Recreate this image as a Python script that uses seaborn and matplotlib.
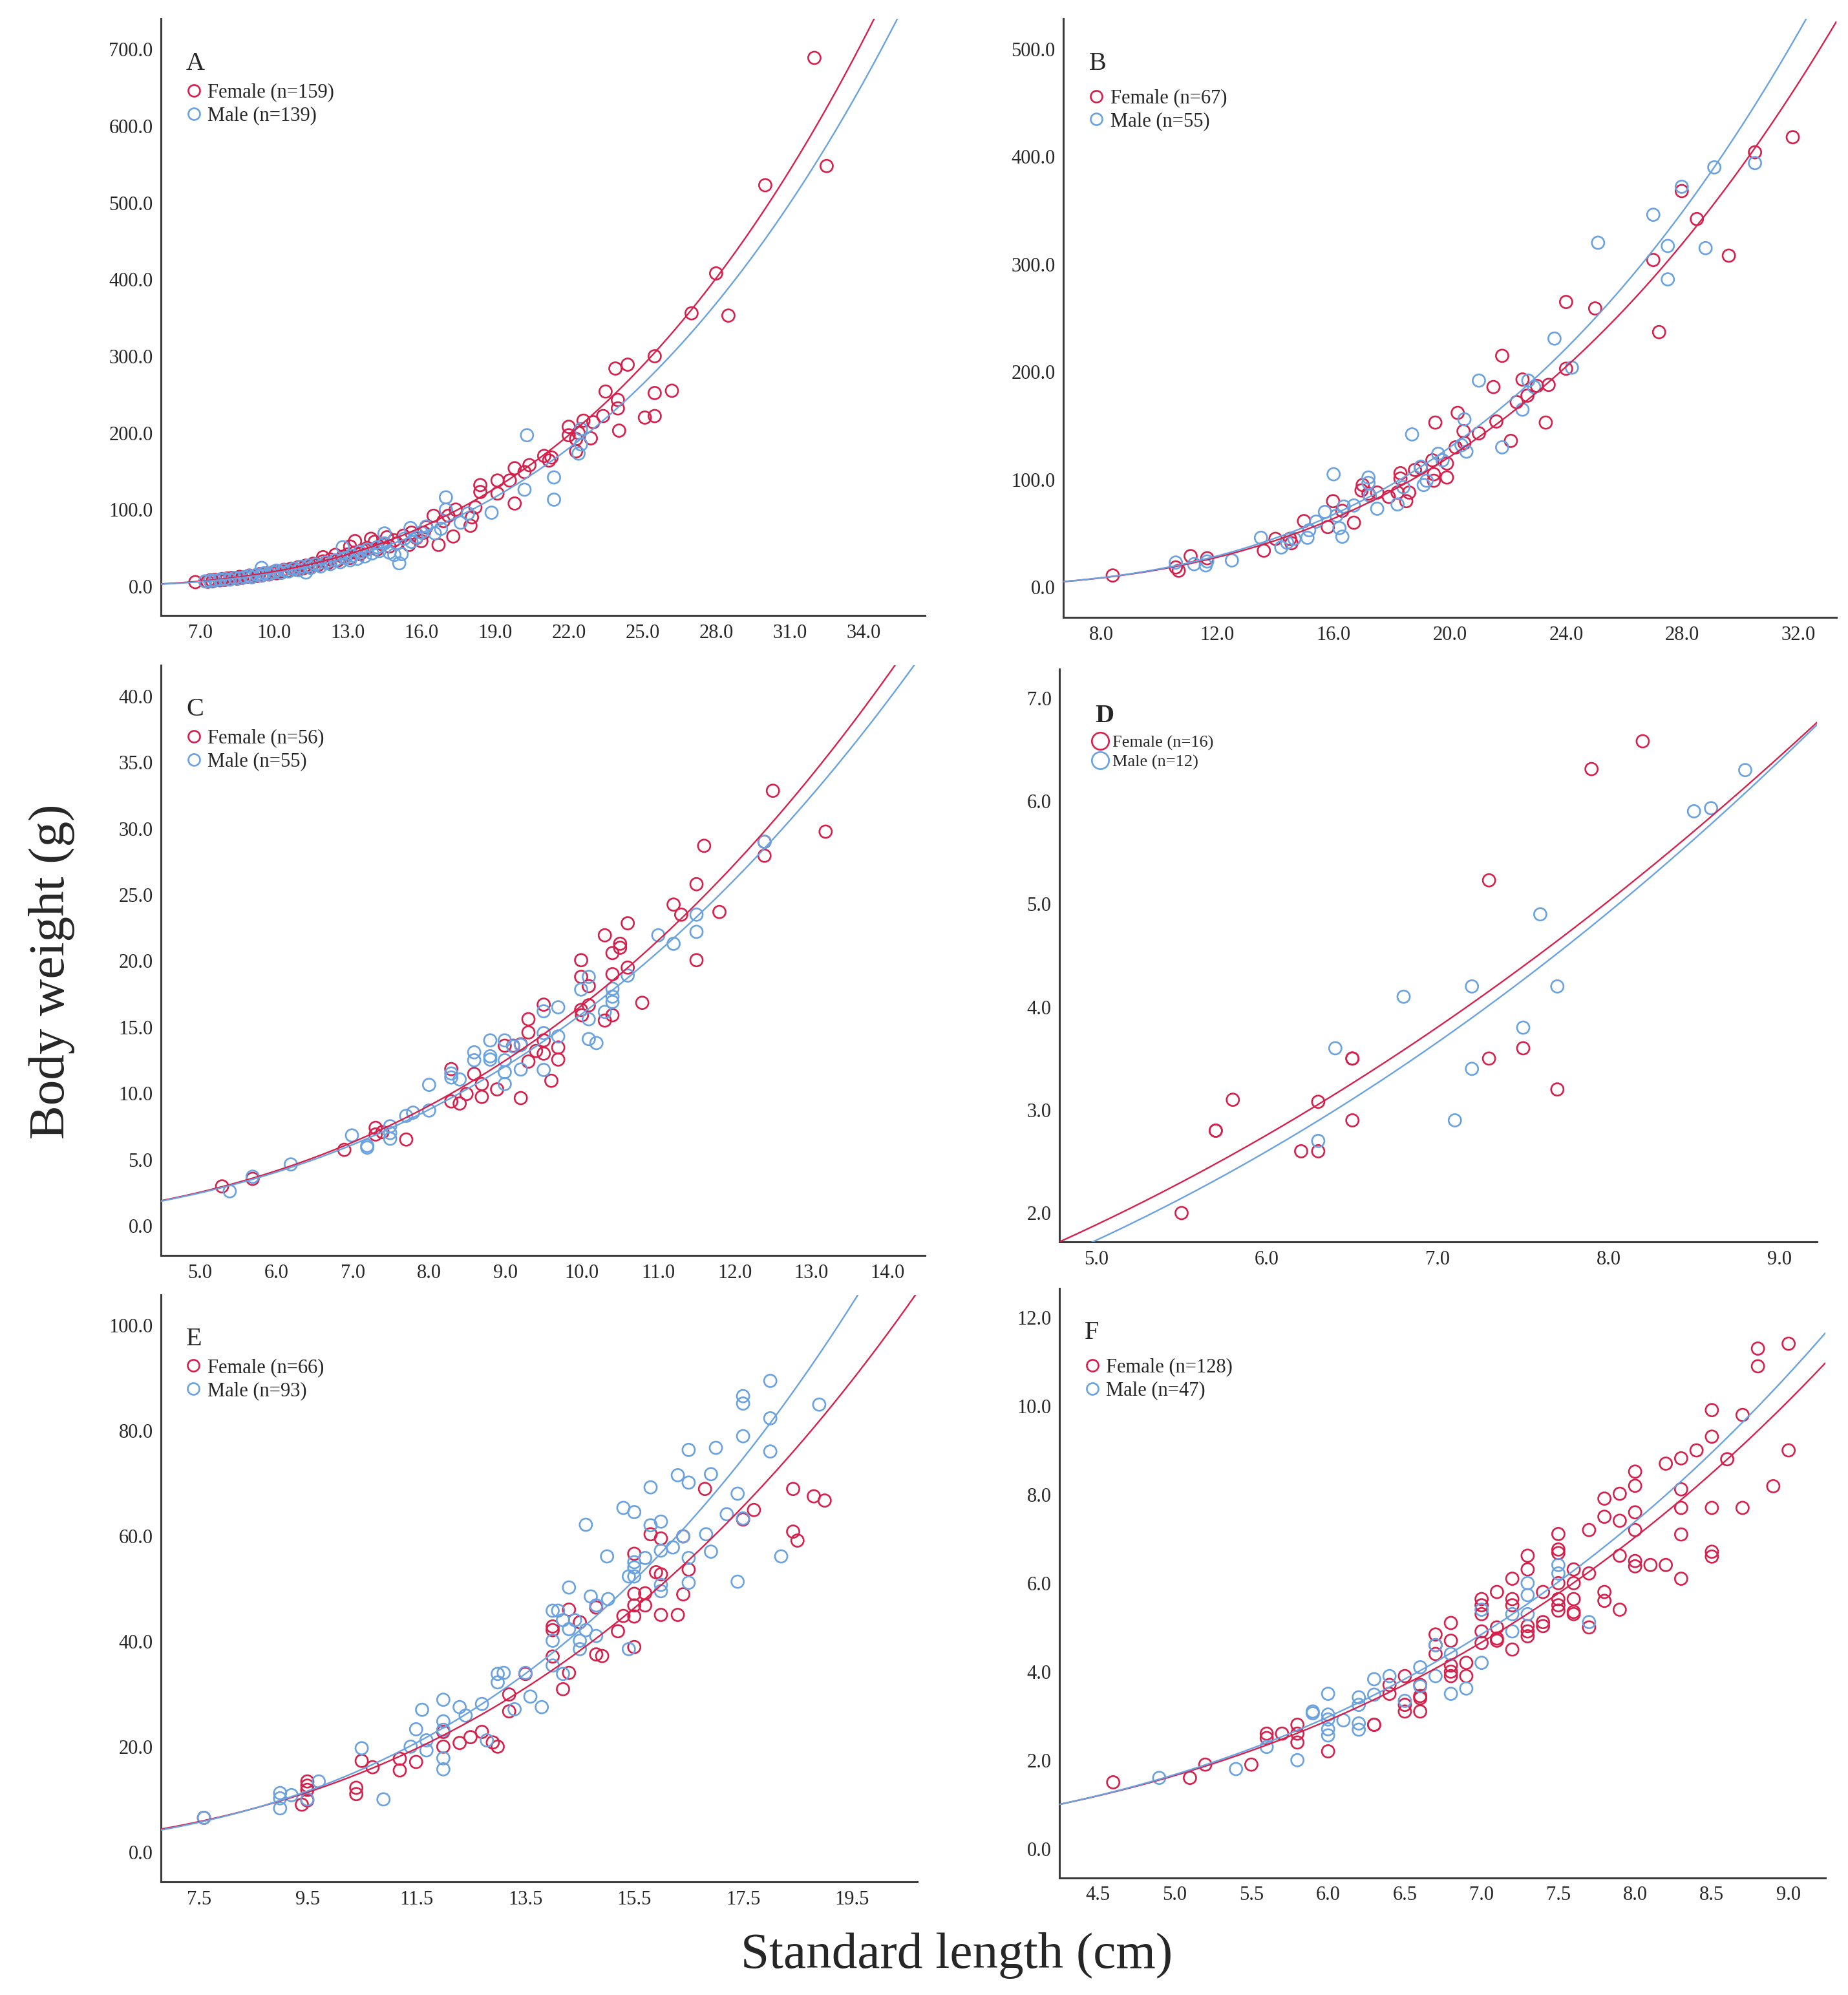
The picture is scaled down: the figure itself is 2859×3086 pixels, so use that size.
import numpy as np
import matplotlib
matplotlib.use("Agg")
import matplotlib.pyplot as plt
from matplotlib.lines import Line2D
import seaborn as sns

# ---- data: (standard length cm, body weight g) ----
A_female = [(6.8, 5.5), (7.3, 6.0), (7.4, 7.8), (7.5, 6.5), (7.6, 8.5), (7.8, 7.9), (7.9, 9.5), (8.0, 8.4),
            (8.1, 10.2), (8.2, 9.0), (8.3, 11.0), (8.5, 10.1), (8.6, 12.3), (8.7, 11.0), (8.9, 12.5), (9.0, 14.0),
            (9.1, 12.6), (9.3, 13.5), (9.4, 15.8), (9.5, 14.0), (9.7, 16.9), (9.8, 15.5), (10.0, 18.8), (10.1, 17.0),
            (10.3, 19.8), (10.4, 21.5), (10.6, 20.2), (10.7, 23.0), (10.9, 21.8), (11.0, 25.0), (11.2, 23.6),
            (11.3, 27.0), (11.5, 25.8), (11.6, 29.5), (11.8, 28.0), (12.0, 38.0), (12.0, 32.5), (12.2, 30.5),
            (12.3, 35.0), (12.5, 41.0), (12.6, 33.8), (12.8, 38.5), (13.0, 41.5), (13.1, 52.0), (13.1, 37.0),
            (13.3, 59.0), (13.3, 44.0), (13.5, 42.0), (13.6, 47.0), (13.8, 50.0), (13.95, 62.0), (14.1, 58.0),
            (14.2, 48.0), (14.4, 55.0), (14.6, 64.0), (14.7, 52.0), (14.9, 60.0), (15.0, 56.0), (15.27, 66.0),
            (15.5, 54.0), (15.6, 70.0), (15.8, 63.0), (16.0, 59.0), (16.1, 70.0), (16.2, 77.0), (16.5, 92.0),
            (16.7, 54.0), (16.9, 85.0), (17.1, 92.0), (17.3, 65.0), (17.4, 100.0), (18.0, 79.0), (18.06, 90.0),
            (18.2, 103.0), (18.4, 132.0), (18.4, 123.0), (19.1, 121.0), (19.1, 138.0), (19.6, 138.0), (19.8, 108.0),
            (19.8, 154.0), (20.2, 149.0), (20.4, 158.0), (21.0, 170.0), (21.2, 164.0), (21.3, 168.0), (22.0, 208.0),
            (22.0, 197.0), (22.3, 192.0), (22.3, 176.0), (22.4, 200.0), (22.6, 216.0), (22.9, 193.0), (23.0, 214.0),
            (23.4, 222.0), (23.5, 254.0), (23.9, 284.0), (24.0, 243.0), (24.0, 232.0), (24.05, 203.0), (24.4, 289.0),
            (25.1, 220.0), (25.5, 222.0), (25.5, 252.0), (25.5, 300.0), (26.2, 255.0), (27.0, 356.0), (28.0, 408.0),
            (28.5, 353.0), (30.0, 523.0), (32.0, 689.0), (32.5, 548.0)]
A_male = [(7.2, 6.5), (7.4, 7.0), (7.6, 7.6), (7.8, 8.8), (8.0, 9.5), (8.2, 8.8), (8.4, 11.0), (8.6, 10.5),
          (8.8, 12.0), (9.0, 13.5), (9.1, 11.8), (9.3, 15.0), (9.5, 24.0), (9.5, 14.0), (9.6, 17.0), (9.8, 16.0),
          (10.0, 18.0), (10.1, 20.5), (10.3, 17.5), (10.4, 21.0), (10.6, 19.5), (10.8, 23.0), (11.0, 21.0),
          (11.1, 25.5), (11.3, 18.0), (11.4, 27.0), (11.5, 24.0), (11.7, 28.5), (11.9, 26.0), (12.1, 31.0),
          (12.3, 29.0), (12.5, 34.0), (12.7, 31.5), (12.8, 51.0), (12.9, 37.0), (13.1, 34.0), (13.2, 40.0),
          (13.4, 36.0), (13.5, 45.0), (13.7, 39.0), (13.8, 48.0), (14.0, 43.0), (14.2, 51.0), (14.3, 46.0),
          (14.5, 69.0), (14.5, 56.0), (14.7, 44.0), (14.9, 41.0), (15.1, 30.0), (15.2, 42.0), (15.3, 62.0),
          (15.56, 76.0), (15.6, 58.0), (15.8, 64.0), (16.0, 70.0), (16.2, 78.0), (16.55, 69.0), (16.8, 75.0),
          (17.0, 116.0), (17.0, 100.0), (17.6, 83.0), (17.9, 95.0), (18.86, 96.0), (20.2, 126.0), (20.3, 197.0),
          (21.4, 142.0), (21.4, 113.0), (22.4, 173.0), (22.5, 185.0), (22.5, 205.0)]

B_female = [(8.4, 11), (10.57, 18.5), (10.67, 15.4), (11.08, 29), (11.65, 27), (13.6, 34), (14.0, 45), (14.5, 45),
            (14.55, 41), (14.98, 61.5), (15.8, 56), (15.98, 80), (16.3, 71), (16.7, 60), (17.0, 95), (16.96, 90),
            (17.2, 87), (17.5, 88), (17.9, 84), (18.2, 88), (18.3, 106), (18.3, 101), (18.5, 80), (18.6, 88),
            (18.8, 109), (19.0, 111), (19.4, 118), (19.45, 105), (19.45, 99), (19.5, 153), (19.9, 115), (19.9, 102),
            (20.2, 130), (20.27, 162), (20.47, 145), (20.5, 134), (21.0, 143), (21.5, 186), (21.6, 154), (21.8, 215),
            (22.1, 136), (22.3, 172), (22.5, 193), (22.67, 178), (23.0, 187), (23.3, 153), (23.4, 188), (24.0, 265),
            (24.0, 203), (25.0, 259), (27.0, 304), (27.2, 237), (27.98, 368), (28.5, 342), (29.6, 308), (30.5, 404),
            (31.8, 418)]
B_male = [(10.57, 23), (11.2, 21.5), (11.6, 20.4), (11.65, 24), (12.5, 25), (13.5, 46), (14.2, 37), (14.4, 41.5),
          (14.65, 45), (15.1, 46), (15.16, 53), (15.4, 61), (15.7, 70), (16.0, 105), (16.1, 66.5), (16.2, 55),
          (16.3, 47), (16.35, 75), (16.7, 76), (17.2, 102), (17.2, 97), (17.25, 85), (17.5, 73), (18.2, 77),
          (18.4, 93), (18.7, 142), (19.0, 112), (19.1, 95), (19.2, 99), (19.6, 124), (19.75, 118), (20.4, 132),
          (20.5, 156), (20.57, 126), (21.0, 192), (21.8, 130), (22.5, 165), (22.7, 192), (22.9, 186), (23.6, 231),
          (24.2, 204), (25.1, 320), (27.0, 346), (27.5, 317), (27.5, 286), (27.98, 372), (28.8, 315), (29.1, 390),
          (30.5, 394)]

C_female = [(5.29, 2.97), (5.69, 3.54), (6.89, 5.73), (7.30, 7.39), (7.30, 6.89), (7.39, 7.07), (7.70, 6.51),
            (8.29, 11.83), (8.29, 9.39), (8.40, 9.23), (8.49, 9.95), (8.59, 11.46), (8.69, 9.73), (8.69, 10.7),
            (8.89, 10.3), (8.99, 13.6), (9.1, 13.6), (9.2, 9.64), (9.2, 13.7), (9.3, 15.6), (9.3, 14.6), (9.3, 12.4),
            (9.4, 13.2), (9.5, 16.7), (9.5, 14.0), (9.5, 13.0), (9.6, 10.95), (9.69, 13.46), (9.69, 12.55),
            (9.99, 20.06), (9.99, 18.8), (9.99, 16.3), (10.0, 15.9), (10.09, 18.1), (10.09, 16.65), (10.3, 21.94),
            (10.3, 15.5), (10.4, 20.6), (10.4, 19.0), (10.4, 15.9), (10.5, 21.3), (10.5, 21.0), (10.6, 22.85),
            (10.6, 19.5), (10.79, 16.84), (11.2, 24.26), (11.3, 23.5), (11.5, 25.8), (11.5, 20.06), (11.6, 28.7),
            (11.8, 23.7), (12.39, 27.95), (12.39, 29.0), (12.5, 32.86), (13.19, 29.77)]
C_male = [(5.39, 2.6), (5.69, 3.7), (6.19, 4.63), (6.99, 6.82), (7.19, 6.04), (7.19, 5.9), (7.49, 7.51),
          (7.49, 6.57), (7.49, 7.0), (7.7, 8.3), (7.79, 8.54), (8.0, 10.64), (8.0, 8.7), (8.29, 11.2), (8.29, 11.5),
          (8.40, 11.05), (8.59, 13.1), (8.59, 12.5), (8.8, 14.0), (8.8, 12.8), (8.8, 12.55), (8.99, 14.0),
          (8.99, 12.5), (8.99, 11.6), (8.99, 10.7), (9.1, 13.55), (9.2, 13.65), (9.2, 11.8), (9.5, 16.2),
          (9.5, 14.55), (9.5, 11.77), (9.69, 16.5), (9.69, 14.3), (9.99, 17.84), (10.09, 18.8), (10.09, 15.6),
          (10.09, 14.1), (10.19, 13.8), (10.3, 16.15), (10.4, 17.9), (10.4, 17.3), (10.4, 16.9), (10.6, 18.9),
          (11.0, 21.94), (11.2, 21.3), (11.5, 23.5), (11.5, 22.2), (12.39, 29.0)]

D_female = [(5.5, 2.0), (5.7, 2.8), (5.7, 2.8), (5.8, 3.1), (6.2, 2.6), (6.3, 2.6), (6.3, 3.08), (6.5, 3.5),
            (6.5, 3.5), (6.5, 2.9), (7.3, 5.23), (7.3, 3.5), (7.5, 3.6), (7.7, 3.2), (7.9, 6.31), (8.2, 6.58)]
D_male = [(6.3, 2.7), (6.4, 3.6), (6.8, 4.1), (7.1, 2.9), (7.2, 4.2), (7.2, 3.4), (7.5, 3.8), (7.6, 4.9),
          (7.7, 4.2), (8.5, 5.9), (8.6, 5.93), (8.8, 6.3)]

E_female = [(7.59, 6.5), (9.39, 9.0), (9.49, 13.4), (9.49, 12.6), (9.49, 11.8), (9.49, 9.8), (10.39, 12.2),
            (10.39, 11.0), (10.49, 17.3), (10.69, 16.1), (11.19, 17.7), (11.19, 15.5), (11.49, 17.1), (11.99, 22.8),
            (11.99, 20.0), (12.29, 20.7), (12.49, 21.8), (12.7, 22.8), (12.9, 20.8), (12.99, 20.0), (13.2, 29.9),
            (13.2, 26.7), (13.5, 33.8), (14.0, 42.1), (14.0, 42.8), (14.0, 37.1), (14.19, 30.9), (14.3, 46.0),
            (14.3, 34.0), (14.5, 43.6), (14.8, 46.4), (14.8, 37.5), (14.91, 37.2), (15.2, 41.9), (15.3, 44.8),
            (15.5, 56.6), (15.5, 49.0), (15.5, 46.8), (15.5, 44.7), (15.5, 38.9), (15.7, 49.1), (15.7, 46.8),
            (15.8, 60.3), (15.9, 53.1), (15.99, 59.5), (15.99, 52.7), (15.99, 45.0), (16.3, 45.0), (16.4, 48.9),
            (16.4, 59.9), (16.5, 53.6), (16.8, 68.9), (17.5, 63.1), (17.7, 64.9), (18.42, 68.9), (18.42, 60.8),
            (18.5, 59.1), (18.8, 67.5), (19.0, 66.7)]
E_male = [(7.59, 6.5), (8.99, 11.2), (8.99, 10.2), (8.99, 8.3), (9.2, 10.8), (9.49, 10.0), (9.7, 13.4),
          (10.49, 19.7), (10.89, 10.0), (11.39, 20.0), (11.49, 23.3), (11.6, 27.0), (11.68, 21.2), (11.68, 19.3),
          (11.99, 28.9), (11.99, 24.8), (11.99, 23.2), (11.99, 17.8), (11.99, 15.7), (12.29, 27.5), (12.4, 25.9),
          (12.7, 28.1), (12.79, 21.2), (12.99, 33.8), (12.99, 32.2), (13.1, 34.0), (13.3, 27.1), (13.5, 34.0),
          (13.59, 29.5), (13.8, 27.5), (14.0, 45.8), (14.0, 40.1), (14.0, 35.4), (14.1, 45.8), (14.19, 44.0),
          (14.19, 33.8), (14.3, 50.2), (14.3, 42.3), (14.41, 44.0), (14.5, 40.1), (14.5, 38.5), (14.61, 62.1),
          (14.61, 42.1), (14.7, 48.5), (14.8, 46.8), (14.8, 41.0), (15.0, 56.1), (15.02, 48.0), (15.3, 65.3),
          (15.4, 52.3), (15.4, 38.5), (15.5, 64.5), (15.5, 55.0), (15.5, 54.0), (15.5, 52.3), (15.7, 55.8),
          (15.8, 69.2), (15.8, 62.0), (15.99, 62.7), (15.99, 57.2), (15.99, 50.7), (15.99, 49.5), (16.21, 57.8),
          (16.3, 71.5), (16.4, 59.9), (16.5, 76.3), (16.5, 70.1), (16.5, 55.8), (16.5, 51.1), (16.82, 60.3),
          (16.91, 71.7), (16.91, 57.0), (17.0, 76.7), (17.2, 64.1), (17.4, 68.0), (17.4, 51.3), (17.5, 86.5),
          (17.5, 85.1), (17.5, 78.9), (17.5, 63.3), (18.0, 89.4), (18.0, 82.3), (18.0, 76.0), (18.2, 56.1),
          (18.9, 84.9)]

F_female = [(4.6, 1.5), (5.1, 1.6), (5.2, 1.9), (5.5, 1.9), (5.6, 2.6), (5.6, 2.5), (5.7, 2.6), (5.8, 2.8),
            (5.8, 2.6), (5.8, 2.4), (6.0, 2.2), (6.3, 2.8), (6.3, 2.8), (6.4, 3.7), (6.4, 3.5), (6.5, 3.9),
            (6.5, 3.1), (6.5, 3.25), (6.6, 3.7), (6.6, 3.45), (6.6, 3.4), (6.6, 3.1), (6.7, 4.84), (6.7, 4.6),
            (6.7, 4.4), (6.8, 5.1), (6.8, 4.7), (6.8, 4.14), (6.8, 4.0), (6.8, 3.9), (6.9, 4.2), (6.9, 3.9),
            (7.0, 5.64), (7.0, 5.5), (7.0, 5.3), (7.0, 4.91), (7.0, 4.65), (7.1, 5.8), (7.1, 5.0), (7.1, 4.75),
            (7.1, 4.7), (7.2, 6.1), (7.2, 5.64), (7.2, 5.5), (7.2, 4.5), (7.3, 6.62), (7.3, 6.31), (7.3, 5.03),
            (7.3, 4.91), (7.3, 4.8), (7.4, 5.8), (7.4, 5.12), (7.4, 5.03), (7.5, 7.11), (7.5, 6.76), (7.5, 6.68),
            (7.5, 6.0), (7.5, 5.64), (7.5, 5.5), (7.5, 5.38), (7.6, 6.31), (7.6, 6.0), (7.6, 5.64), (7.6, 5.35),
            (7.6, 5.3), (7.7, 7.2), (7.7, 6.22), (7.7, 5.0), (7.8, 7.91), (7.8, 7.5), (7.8, 5.8), (7.8, 5.6),
            (7.9, 8.02), (7.9, 7.41), (7.9, 6.62), (7.9, 5.4), (8.0, 8.52), (8.0, 8.2), (8.0, 7.6), (8.0, 7.2),
            (8.0, 6.5), (8.0, 6.38), (8.1, 6.41), (8.2, 8.7), (8.2, 6.41), (8.3, 8.82), (8.3, 8.12), (8.3, 7.7),
            (8.3, 7.1), (8.3, 6.1), (8.4, 9.0), (8.5, 9.91), (8.5, 9.31), (8.5, 7.7), (8.5, 6.71), (8.5, 6.6),
            (8.6, 8.8), (8.7, 9.8), (8.7, 7.7), (8.8, 11.3), (8.8, 10.9), (8.9, 8.19), (9.0, 11.41), (9.0, 9.0)]
F_male = [(4.9, 1.6), (5.4, 1.8), (5.6, 2.3), (5.8, 2.0), (5.9, 3.1), (5.9, 3.06), (6.0, 3.5), (6.0, 3.03),
          (6.0, 2.92), (6.0, 2.7), (6.0, 2.56), (6.1, 2.9), (6.2, 3.42), (6.2, 3.25), (6.2, 2.83), (6.2, 2.69),
          (6.3, 3.83), (6.3, 3.48), (6.4, 3.9), (6.5, 3.34), (6.6, 4.1), (6.6, 3.67), (6.7, 3.9), (6.7, 4.6),
          (6.8, 4.4), (6.8, 3.5), (6.9, 3.62), (7.0, 4.2), (7.0, 5.4), (7.2, 4.91), (7.2, 5.3), (7.3, 6.0),
          (7.3, 5.73), (7.3, 5.3), (7.5, 6.41), (7.5, 6.22), (7.7, 5.12)]

# power-curve fits W = a * L^b, as drawn in the figure (panels A-F)
female_a = [0.02133, 0.02205, 0.0317, 0.06557, 0.01775, 0.011544]
female_b = [2.954, 2.875, 2.72, 2.087, 2.87, 3.084]
male_a = [0.01814, 0.02005, 0.03238, 0.04896, 0.01208, 0.010328]
male_b = [2.977, 2.930, 2.694, 2.217, 3.05, 3.161]

letters = ["A", "B", "C", "D", "E", "F"]
female_labels = ["Female (n=159)", "Female (n=67)", "Female (n=56)", "Female (n=16)", "Female (n=66)", "Female (n=128)"]
male_labels = ["Male (n=139)", "Male (n=55)", "Male (n=55)", "Male (n=12)", "Male (n=93)", "Male (n=47)"]
xlims = [(5.4, 36.5), (6.7, 33.3), (4.49, 14.49), (4.785, 9.22), (6.80, 20.70), (4.25, 9.24)]
ylims = [(-38, 740), (-28, 528), (-2.25, 42.35), (1.72, 7.28), (-5.66, 105.7), (-0.66, 12.66)]
xticks = [np.arange(7, 35, 3), np.arange(8, 33, 4), np.arange(5, 15, 1), np.arange(5, 10, 1),
          np.arange(7.5, 20, 2), np.arange(4.5, 9.01, 0.5)]
yticks = [np.arange(0, 701, 100), np.arange(0, 501, 100), np.arange(0, 41, 5), np.arange(2, 8, 1),
          np.arange(0, 101, 20), np.arange(0, 13, 2)]
panels = [(A_female, A_male), (B_female, B_male), (C_female, C_male),
          (D_female, D_male), (E_female, E_male), (F_female, F_male)]

# axes rectangles in figure fractions
rects = [(0.0871, 0.6915, 0.4134, 0.2991), (0.5754, 0.6905, 0.4183, 0.3001),
         (0.0871, 0.3707, 0.4134, 0.2959), (0.5733, 0.3775, 0.4099, 0.2871),
         (0.0871, 0.0567, 0.4092, 0.2942), (0.5733, 0.0587, 0.4145, 0.2955)]
legend_anchor = [(0.034, 0.892), (0.034, 0.883), (0.034, 0.892), (0.046, 0.885), (0.034, 0.892), (0.034, 0.882)]

RED = "#D6204B"
BLUE = "#6AA2E0"

sns.set_style("white")
plt.rcParams["font.family"] = ["Liberation Serif", "DejaVu Serif"]

fig = plt.figure(figsize=(28.59, 30.86), dpi=100)

for i, (fem, mal) in enumerate(panels):
    ax = fig.add_axes(rects[i])
    for pts, c in [(fem, RED), (mal, BLUE)]:
        sns.scatterplot(x=[p[0] for p in pts], y=[p[1] for p in pts], ax=ax, marker="o", s=190,
                        color=c, facecolor="none", edgecolor=c, linewidth=1.9, legend=False, zorder=3)
    grid = np.linspace(xlims[i][0], xlims[i][1], 400)
    for a, b, c in [(female_a[i], female_b[i], RED), (male_a[i], male_b[i], BLUE)]:
        sns.lineplot(x=grid, y=a * grid ** b, ax=ax, color=c, linewidth=1.7, zorder=4)

    ax.set_xlim(*xlims[i])
    ax.set_ylim(*ylims[i])
    ax.set_xticks(xticks[i])
    ax.set_yticks(yticks[i])
    ax.set_xticklabels([f"{v:.1f}" for v in xticks[i]])
    ax.set_yticklabels([f"{v:.1f}" for v in yticks[i]])
    ax.tick_params(direction="in", length=14, width=2.2, color="#a8a8a8", labelsize=22, pad=9)
    ax.set_xlabel("")
    ax.set_ylabel("")
    for side in ["top", "right"]:
        ax.spines[side].set_visible(False)
    for side in ["left", "bottom"]:
        ax.spines[side].set_color("#3a3a3a")
        ax.spines[side].set_linewidth(2.2)

    if letters[i] == "D":
        ax.text(0.047, 0.918, "D", transform=ax.transAxes, fontsize=29, fontweight="bold",
                ha="left", va="center")
        ms, fs = 19, 19
    else:
        ax.text(0.033, 0.925, letters[i], transform=ax.transAxes, fontsize=29, ha="left", va="center")
        ms, fs = 13, 22
    handles = [Line2D([], [], ls="none", marker="o", ms=ms, mfc="none", mec=RED, mew=1.9),
               Line2D([], [], ls="none", marker="o", ms=ms, mec=BLUE, mfc="none", mew=1.9)]
    ax.legend(handles, [female_labels[i], male_labels[i]], loc="upper left", bbox_to_anchor=legend_anchor[i],
              frameon=False, fontsize=fs, handlelength=0.7, handletextpad=0.35, labelspacing=0.22,
              borderpad=0, borderaxespad=0)

fig.text(0.028, 0.513, "Body weight (g)", rotation=90, ha="center", va="center", fontsize=57)
fig.text(0.5177, 0.0198, "Standard length (cm)", ha="center", va="center", fontsize=57)

fig.savefig("out.png", dpi=100)
